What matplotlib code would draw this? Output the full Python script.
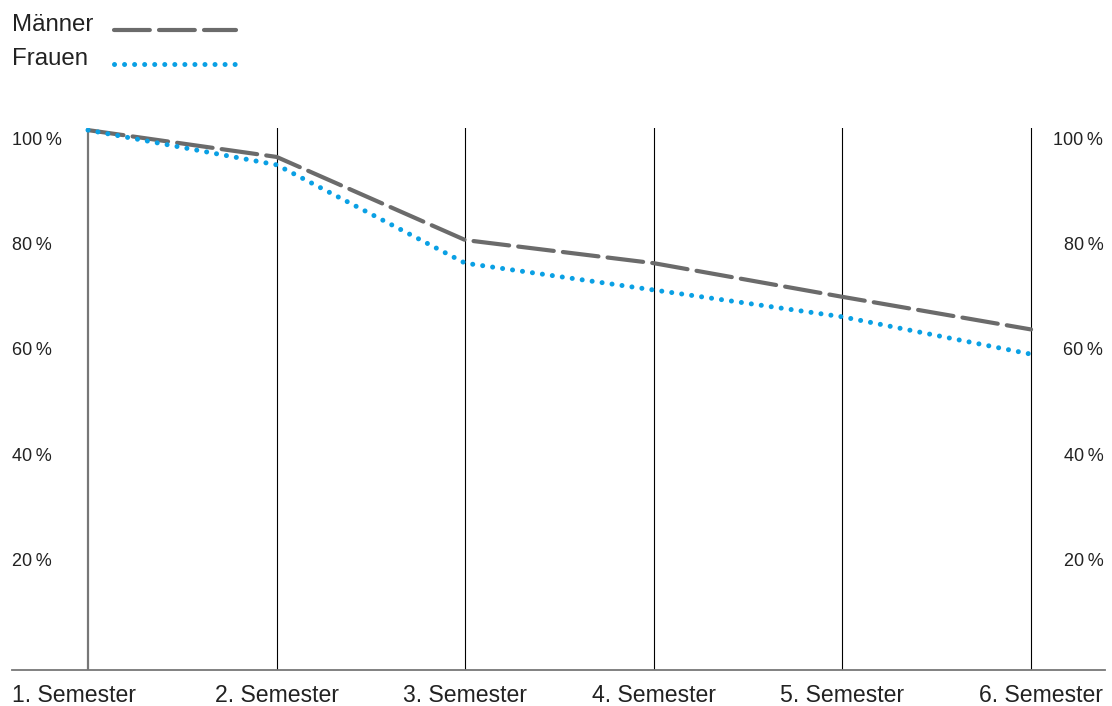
import matplotlib.pyplot as plt
from matplotlib.transforms import blended_transform_factory, offset_copy
from matplotlib.lines import Line2D

plt.rcParams['font.family'] = ['Liberation Sans', 'DejaVu Sans']

semester = ['1. Semester', '2. Semester', '3. Semester', '4. Semester', '5. Semester', '6. Semester']
maenner = [101.5, 96.4, 80.6, 76.2, 69.8, 63.6]
frauen = [101.5, 94.9, 76.2, 71.1, 66.0, 58.9]
yticks = [20, 40, 60, 80, 100]
left_labels = ['20\u2009%', '40\u2009%', '60\u2009%', '80\u2009%', '100\u2009%']
right_labels = ['20\u2009%', '40\u2009%', '60\u2009%', '80\u2009%', '100\u2009%']
series_names = ['Männer', 'Frauen']

grey = '#6b6b6b'
blue = '#0aa0e4'
txt = '#222222'

fig = plt.figure(figsize=(11.12, 7.06), dpi=100)
ax = fig.add_axes([12 / 1112, 36 / 706, 1093 / 1112, 542 / 706])

x = list(range(len(semester)))

# vertical guides
for i in x:
    if i == 0:
        ax.axvline(i, color='#777777', lw=1.6, zorder=1)
    else:
        ax.axvline(i, color='black', lw=0.8, zorder=1)

m_style = dict(color=grey, lw=3, dashes=(8.6, 2.2), dash_capstyle='round')
f_style = dict(color=blue, lw=3.6, dashes=(0.01, 2.0), dash_capstyle='round')

ax.plot(x, maenner, zorder=3, **m_style)
ax.plot(x, frauen, zorder=4, **f_style)

ax.set_xlim(-0.403, 5.392)
ax.set_ylim(-1.14, 101.9)

for s in ['top', 'right', 'left']:
    ax.spines[s].set_visible(False)
ax.spines['bottom'].set_color('#777777')
ax.spines['bottom'].set_linewidth(1.3)
ax.set_xticks([])
ax.set_yticks([])

ytr = offset_copy(ax.get_yaxis_transform(), fig=fig, x=0, y=-2.5, units='dots')
for v, l1, l2 in zip(yticks, left_labels, right_labels):
    ax.text(0, v, l1, transform=ytr, ha='left', va='center', fontsize=13, color=txt)
    ax.text(0.9985, v, l2, transform=ytr, ha='right', va='center', fontsize=13, color=txt)

xtr = blended_transform_factory(ax.transData, ax.transAxes)
for i, lab in enumerate(semester):
    if i == 0:
        ax.text(0, -0.047, lab, transform=ax.transAxes, ha='left', va='center',
                fontsize=16.6, color=txt)
    elif i == len(semester) - 1:
        ax.text(0.9985, -0.047, lab, transform=ax.transAxes, ha='right', va='center',
                fontsize=16.6, color=txt)
    else:
        ax.text(i, -0.047, lab, transform=xtr, ha='center', va='center',
                fontsize=16.6, color=txt)

# legend: label first, sample line after
W, H = 1112, 706
for k, (name, st) in enumerate(zip(series_names, [m_style, f_style])):
    ty = 22 + k * 34
    fig.text(12 / W, 1 - (ty + 3) / H, name, ha='left', va='center', fontsize=17.3, color=txt)
    ly = 1 - (ty + 8) / H
    fig.add_artist(Line2D([114 / W, 236 / W], [ly, ly], transform=fig.transFigure, **st))

fig.savefig('out.png', dpi=100)
